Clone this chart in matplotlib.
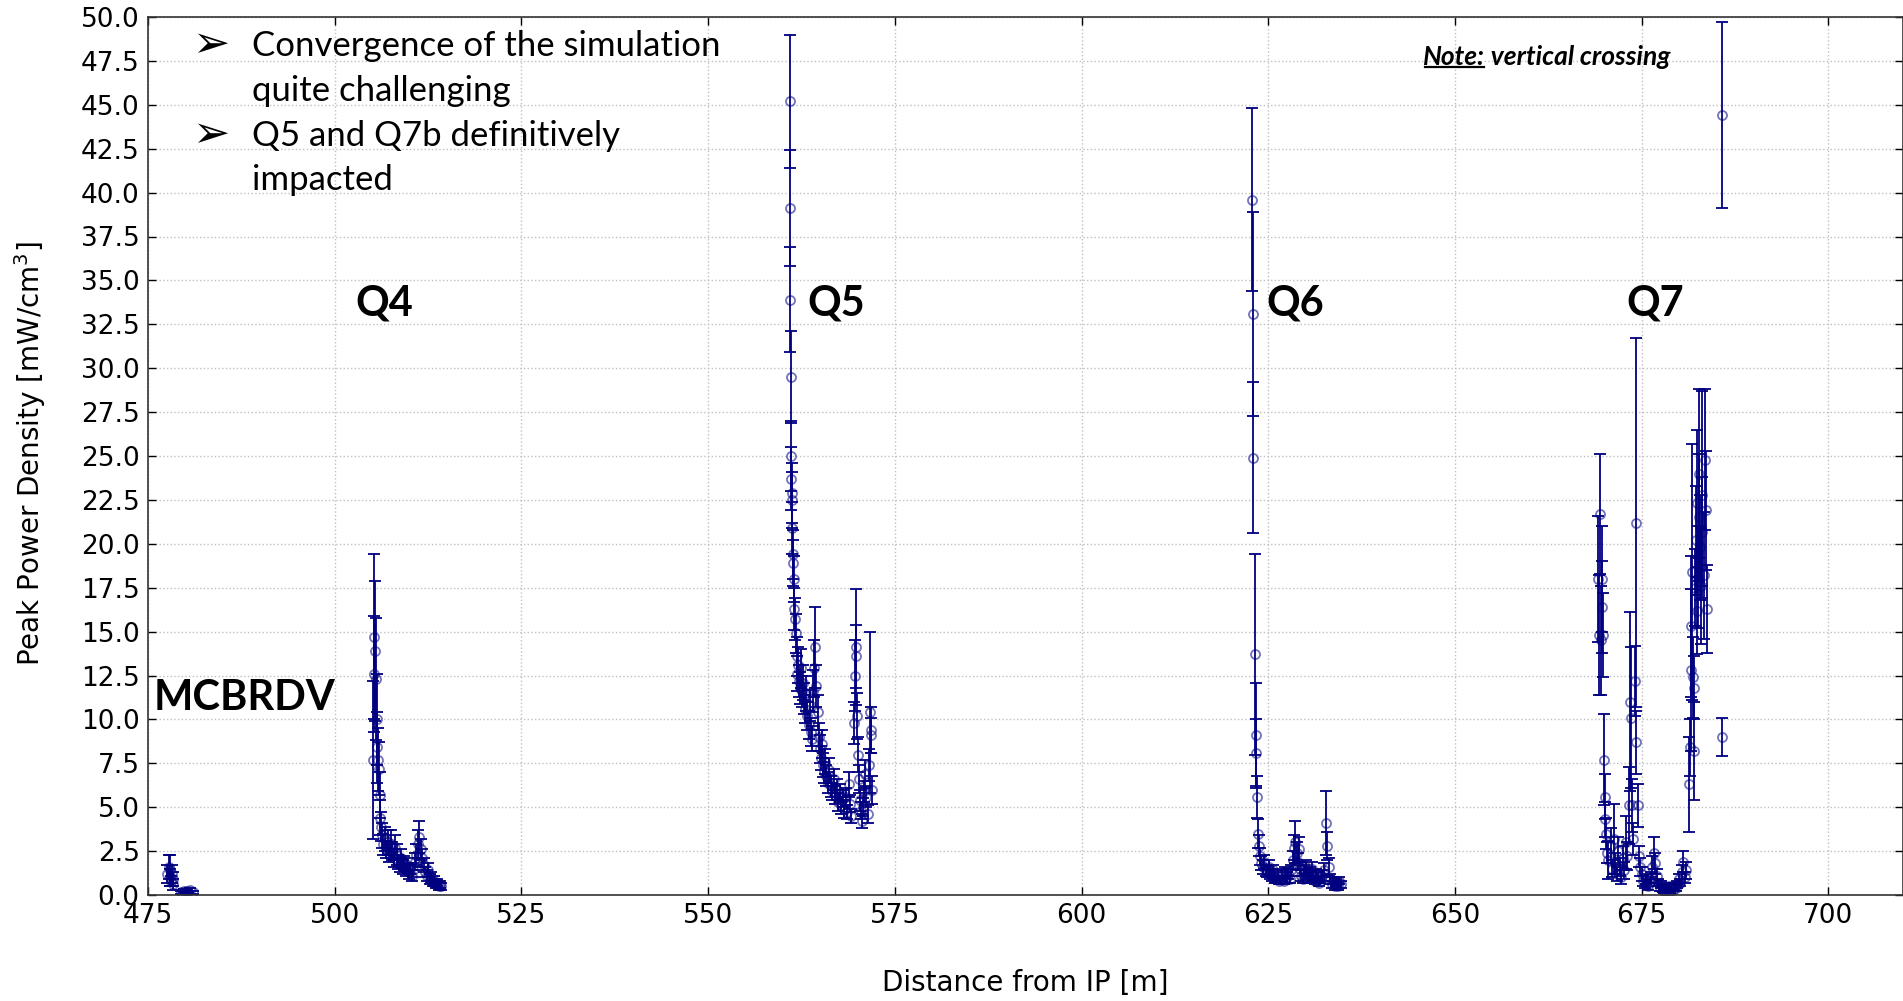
import matplotlib
matplotlib.use("Agg")
import matplotlib.pyplot as plt
from matplotlib.lines import Line2D
from matplotlib.transforms import IdentityTransform

# Peak power density along the line, one cluster per magnet
mcbrdv_x = [477.6, 477.8, 477.9, 478.0, 478.1, 478.2, 478.3, 478.4, 479.4, 479.8, 480.2, 480.6, 481.0]
mcbrdv_y = [1.2, 1.6, 1.4, 1.0, 0.8, 1.2, 0.6, 0.9, 0.15, 0.25, 0.2, 0.3, 0.15]
mcbrdv_err = [0.5, 0.7, 0.9, 0.5, 0.3, 0.5, 0.3, 0.4, 0.1, 0.1, 0.1, 0.1, 0.1]

q4_x = [505.1, 505.2, 505.3, 505.4, 505.5, 505.6, 505.7, 505.8, 505.9, 506.0, 506.1, 506.2,
        506.3, 506.5, 506.7, 506.9, 507.1, 507.3, 507.5, 507.7, 507.9, 508.1, 508.3, 508.5,
        508.7, 508.9, 509.1, 509.3, 509.5, 509.7, 509.9, 510.1, 510.3, 510.5, 510.7, 510.9,
        511.1, 511.3, 511.5, 511.7, 511.9, 512.1, 512.3, 512.5, 512.7, 512.9, 513.1, 513.3,
        513.5, 513.7, 513.9, 514.1, 514.3]
q4_y = [7.7, 12.6, 14.7, 13.9, 12.3, 10.0, 8.4, 7.7, 7.2, 5.7, 4.4, 3.9,
        3.4, 2.9, 3.2, 2.6, 3.0, 2.4, 2.9, 2.5, 2.1, 2.7, 2.3, 1.9,
        1.7, 2.1, 1.6, 1.8, 1.4, 1.7, 1.3, 1.5, 1.1, 1.4, 1.9, 2.3,
        2.9, 3.3, 2.6, 2.1, 1.7, 1.3, 1.1, 1.4, 0.9, 1.0, 0.7, 0.8,
        0.6, 0.7, 0.5, 0.6, 0.5]
q4_err = [4.5, 3.3, 4.7, 4.0, 3.5, 2.6, 2.0, 1.8, 1.5, 1.3, 1.0, 0.8,
          0.7, 0.6, 0.7, 0.5, 0.7, 0.5, 0.8, 0.5, 0.5, 0.7, 0.6, 0.4,
          0.4, 0.5, 0.4, 0.4, 0.3, 0.4, 0.4, 0.3, 0.3, 0.4, 0.5, 0.6,
          0.8, 0.9, 0.6, 0.5, 0.4, 0.3, 0.3, 0.4, 0.3, 0.3, 0.2, 0.3,
          0.2, 0.2, 0.2, 0.2, 0.2]

q5_x = [560.90, 560.95, 561.00, 561.05, 561.10, 561.15, 561.20, 561.25, 561.30, 561.35,
        561.40, 561.45, 561.55, 561.65, 561.75, 561.85, 561.95, 562.05, 562.15, 562.25,
        562.40, 562.55, 562.70, 562.85, 563.00, 563.15, 563.30, 563.45, 563.60, 563.75,
        563.90, 564.05, 564.20, 564.35, 564.50, 564.65, 564.80, 564.95, 565.10, 565.25,
        565.40, 565.55, 565.70, 565.85, 566.00, 566.20, 566.40, 566.60, 566.80, 567.00,
        567.20, 567.40, 567.60, 567.80, 568.00, 568.20, 568.40, 568.60, 568.80, 569.00,
        569.20, 569.55, 569.65, 569.75, 569.85, 569.95, 570.05, 570.15, 570.30, 570.45,
        570.60, 570.75, 570.90, 571.05, 571.20, 571.35, 571.50, 571.65, 571.75, 571.85,
        571.95]
q5_y = [45.2, 39.1, 33.9, 29.5, 25.0, 23.7, 22.9, 22.5, 20.9, 19.4,
        18.9, 18.0, 16.3, 15.7, 14.9, 13.6, 12.6, 13.1, 12.2, 11.8,
        12.9, 11.6, 12.1, 11.2, 10.6, 11.5, 10.2, 9.7, 10.8, 9.3,
        8.9, 11.6, 12.9, 14.1, 11.9, 10.4, 9.0, 8.3, 7.8, 8.6,
        7.4, 7.0, 7.6, 6.8, 6.4, 7.1, 6.2, 5.9, 6.6, 5.7,
        6.0, 5.3, 5.8, 5.1, 5.5, 4.9, 5.6, 4.7, 6.3, 5.2,
        4.5, 9.8, 12.5, 14.1, 13.6, 10.2, 8.0, 6.6, 5.4, 4.8,
        4.2, 5.0, 5.9, 6.9, 5.6, 4.6, 7.4, 10.4, 9.4, 9.1,
        6.0]
q5_err = [3.8, 3.3, 3.0, 2.6, 2.0, 1.8, 1.7, 1.6, 1.5, 1.4,
          1.3, 1.3, 1.2, 1.2, 1.1, 1.1, 1.0, 1.0, 0.9, 0.9,
          1.1, 0.9, 1.0, 0.9, 0.8, 1.0, 0.8, 0.8, 0.9, 0.8,
          0.7, 1.2, 1.6, 2.3, 1.2, 1.0, 0.8, 0.8, 0.7, 0.8,
          0.7, 0.6, 0.7, 0.6, 0.6, 0.7, 0.6, 0.5, 0.6, 0.5,
          0.6, 0.5, 0.5, 0.5, 0.5, 0.5, 0.5, 0.4, 0.7, 0.5,
          0.4, 1.2, 2.0, 3.3, 1.8, 1.3, 1.0, 0.8, 0.6, 0.5,
          0.4, 0.5, 0.6, 0.8, 0.6, 0.5, 0.9, 4.6, 1.3, 1.0,
          0.8]

q6_x = [622.85, 622.95, 623.00, 623.25, 623.35, 623.40, 623.55, 623.65, 623.75, 623.90,
        624.10, 624.30, 624.50, 624.70, 624.90, 625.10, 625.30, 625.50, 625.70, 625.90,
        626.10, 626.30, 626.50, 626.70, 626.90, 627.10, 627.30, 627.50, 627.70, 627.90,
        628.10, 628.30, 628.50, 628.65, 628.80, 628.95, 629.10, 629.25, 629.40, 629.60,
        629.80, 630.00, 630.20, 630.40, 630.60, 630.80, 631.00, 631.20, 631.40, 631.60,
        631.80, 632.00, 632.20, 632.45, 632.75, 632.90, 633.10, 633.30, 633.50, 633.70,
        633.90, 634.10, 634.30, 634.50, 634.70]
q6_y = [39.6, 33.1, 24.9, 13.7, 9.1, 8.1, 5.6, 3.5, 2.8, 2.2,
        1.8, 1.6, 1.9, 1.4, 1.3, 1.6, 1.2, 1.1, 1.4, 1.0,
        0.9, 1.2, 0.8, 0.9, 1.1, 0.8, 1.3, 1.0, 1.2, 0.9,
        1.4, 2.0, 2.7, 3.0, 2.4, 1.9, 2.6, 1.5, 1.1, 0.9,
        1.4, 1.6, 1.2, 1.0, 1.3, 1.5, 1.1, 0.8, 1.2, 1.0,
        0.7, 0.9, 1.1, 1.4, 4.1, 2.8, 1.6, 0.9, 0.6, 0.8,
        0.5, 0.7, 0.5, 0.8, 0.6]
q6_err = [5.2, 5.8, 4.3, 5.7, 3.0, 1.9, 1.2, 0.8, 0.6, 0.5,
          0.4, 0.4, 0.4, 0.3, 0.3, 0.4, 0.3, 0.3, 0.3, 0.3,
          0.2, 0.3, 0.2, 0.2, 0.3, 0.2, 0.3, 0.3, 0.3, 0.2,
          0.3, 0.5, 0.7, 1.2, 0.6, 0.5, 0.7, 0.4, 0.3, 0.2,
          0.3, 0.4, 0.3, 0.3, 0.3, 0.4, 0.3, 0.2, 0.3, 0.3,
          0.2, 0.2, 0.3, 0.4, 1.8, 0.8, 0.5, 0.3, 0.2, 0.2,
          0.2, 0.2, 0.2, 0.2, 0.2]

q7_x = [669.20, 669.35, 669.45, 669.55, 669.65, 669.75, 669.85, 669.95, 670.05, 670.15,
        670.25, 670.35, 670.50, 670.90, 671.10, 671.30, 671.50, 671.70, 671.90, 672.10,
        672.30, 672.50, 672.70, 672.90, 673.10, 673.30, 673.50, 673.60, 673.75, 673.90,
        674.10, 674.20, 674.30, 674.45, 674.60, 674.75, 675.00, 675.20, 675.40, 675.60,
        675.80, 676.00, 676.20, 676.40, 676.60, 676.80, 677.00, 677.20, 677.40, 677.60,
        677.80, 678.00, 678.20, 678.40, 678.60, 678.80, 679.00, 679.20, 679.40, 679.60,
        679.80, 680.00, 680.20, 680.40, 680.60, 680.80, 681.00, 681.30, 681.45, 681.55,
        681.65, 681.75, 681.85, 681.95, 682.05, 682.15, 682.25, 682.35, 682.45, 682.55,
        682.65, 682.75, 682.85, 682.95, 683.05, 683.15, 683.30, 683.45, 683.60, 683.75,
        685.80, 685.80]
q7_y = [18.0, 14.8, 21.7, 14.5, 18.0, 16.4, 14.8, 7.7, 5.6, 4.3,
        3.5, 2.4, 2.0, 2.8, 1.5, 3.2, 1.8, 1.2, 2.5, 1.6,
        1.0, 2.1, 1.4, 3.0, 2.2, 5.1, 11.0, 10.1, 5.1, 3.2,
        12.2, 8.7, 21.2, 5.1, 2.2, 1.6, 1.2, 0.8, 0.6, 0.9,
        0.5, 0.7, 1.0, 1.6, 2.4, 1.8, 1.1, 0.7, 0.4, 0.6,
        0.3, 0.2, 0.4, 0.3, 0.5, 0.2, 0.4, 0.3, 0.5, 0.4,
        0.6, 0.9, 0.7, 1.3, 1.9, 1.0, 1.4, 6.3, 8.4, 12.8,
        15.3, 18.4, 12.4, 11.8, 8.2, 17.5, 20.2, 16.2, 22.3, 18.1,
        21.5, 24.0, 19.8, 17.6, 22.8, 20.7, 18.2, 24.8, 21.9, 16.3,
        44.4, 9.0]
q7_err = [3.6, 3.4, 3.4, 3.1, 3.0, 2.6, 2.4, 2.6, 1.3, 1.0,
          0.9, 0.6, 1.1, 1.0, 0.5, 2.0, 0.6, 0.4, 0.8, 0.5,
          0.4, 0.7, 0.5, 1.5, 0.8, 2.2, 5.1, 4.0, 1.5, 0.9,
          2.0, 1.8, 10.5, 1.2, 0.6, 0.5, 0.4, 0.3, 0.2, 0.3,
          0.2, 0.2, 0.3, 0.6, 0.9, 0.6, 0.4, 0.2, 0.2, 0.2,
          0.15, 0.1, 0.15, 0.1, 0.2, 0.1, 0.15, 0.1, 0.2, 0.15,
          0.2, 0.3, 0.2, 0.4, 0.6, 0.3, 0.5, 2.7, 1.6, 4.6,
          4.0, 7.3, 2.3, 1.8, 2.8, 2.2, 3.1, 2.5, 4.2, 2.9,
          3.6, 4.8, 3.0, 3.3, 5.9, 3.1, 3.6, 4.0, 3.4, 2.5,
          5.3, 1.1]

x_ticks = [475, 500, 525, 550, 575, 600, 625, 650, 675, 700]
y_ticks = [0.0, 2.5, 5.0, 7.5, 10.0, 12.5, 15.0, 17.5, 20.0, 22.5, 25.0,
           27.5, 30.0, 32.5, 35.0, 37.5, 40.0, 42.5, 45.0, 47.5, 50.0]

color = "#000080"

fig = plt.figure(figsize=(19.03, 10.01), dpi=100)
ax = fig.add_axes([148 / 1903, 106 / 1001, 1 - 148 / 1903, 878 / 1001])

xs = mcbrdv_x + q4_x + q5_x + q6_x + q7_x
ys = mcbrdv_y + q4_y + q5_y + q6_y + q7_y
es = mcbrdv_err + q4_err + q5_err + q6_err + q7_err

ax.errorbar(xs, ys, yerr=es, fmt="none", ecolor=color, elinewidth=1.3,
            capsize=4.5, capthick=1.3)
ax.plot(xs, ys, "o", ms=6.5, mfc="none", mec=color, mew=1.3, alpha=0.55)

ax.set_xlim(475, 710)
ax.set_ylim(0, 50)
ax.set_xticks(x_ticks)
ax.set_yticks(y_ticks)
ax.set_yticklabels(["%.1f" % v for v in y_ticks])
ax.tick_params(direction="in", top=True, right=True, length=6, width=1,
               labelsize=19, pad=6)
ax.grid(True, linestyle=":", color="#c0c0c0", linewidth=1)
for s in ax.spines.values():
    s.set_color("#333333")
    s.set_linewidth(1.2)

fig.text(0.539, 0.018, "Distance from IP [m]", fontsize=20, ha="center", va="center")
fig.text(30 / 1903, 0.5465, "Peak Power Density [mW/cm$^3$]", fontsize=20,
         rotation=90, ha="center", va="center")

# magnet labels
lab = dict(fontsize=30, fontweight="bold", family="Lato", va="center")
ax.text(502.8, 33.7, "Q4", **lab)
ax.text(563.3, 33.7, "Q5", **lab)
ax.text(624.7, 33.7, "Q6", **lab)
ax.text(673.0, 33.7, "Q7", **lab)
ax.text(475.8, 11.2, "MCBRDV", **lab)

# bullet notes
bullets = [(48.35, "Convergence of the simulation", True),
           (45.8, "quite challenging", False),
           (43.2, "Q5 and Q7b definitively", True),
           (40.7, "impacted", False)]
for yy, txt, arrow in bullets:
    if arrow:
        ax.text(480.9, yy + 0.1, "\u27a2", fontsize=32, family="DejaVu Sans", va="center")
    ax.text(488.9, yy, txt, fontsize=25, family="Lato", va="center")

t1 = ax.text(645.7, 47.7, "Note:", fontsize=19, family="Lato", fontweight="bold",
             style="italic", va="center")
ax.annotate(" vertical crossing", xy=(1, 0.5), xycoords=t1, va="center",
            fontsize=19, family="Lato", fontweight="bold", style="italic")
fig.canvas.draw()
bb = t1.get_window_extent()
fig.add_artist(Line2D([bb.x0 + 2, bb.x1 - 1], [bb.y0 + 2, bb.y0 + 2], color="black",
                      linewidth=1.6, transform=IdentityTransform()))

fig.savefig("out.png", dpi=100)
